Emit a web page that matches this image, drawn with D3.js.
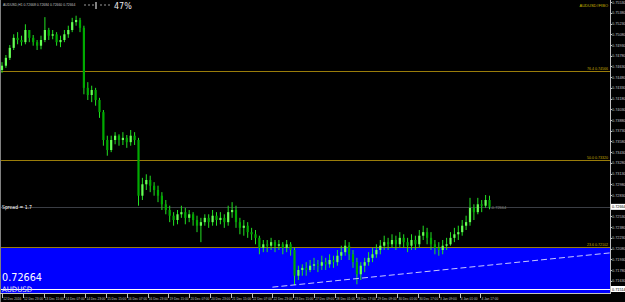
<!DOCTYPE html>
<html><head><meta charset="utf-8">
<script src="https://cdn.jsdelivr.net/npm/d3@7"></script>
<style>html,body{margin:0;padding:0;background:#000;overflow:hidden}svg{display:block}</style>
</head><body><svg id="c" width="625" height="302"></svg>
<script>
// ---------- data ----------
const symbol = "AUDUSD";
const titleText = "AUDUSD,H1  0.72668 0.72684 0.72660 0.72664";
const timeLabels = ["12 Dec 2016","12 Dec 23:00","13 Dec 15:00","14 Dec 07:00","14 Dec 23:00","15 Dec 15:00",
  "16 Dec 07:00","16 Dec 23:00","19 Dec 15:00","20 Dec 07:00","20 Dec 23:00","21 Dec 15:00",
  "22 Dec 07:00","22 Dec 23:00","23 Dec 15:00","27 Dec 09:00","28 Dec 01:00","28 Dec 17:00",
  "29 Dec 09:00","30 Dec 01:00","30 Dec 17:00","3 Jan 09:00","4 Jan 01:00","4 Jan 17:00"];
const labelEveryHours = 16;
const barHours = 3; // each drawn bar covers 3 hours
const opens = [0.7458,0.7464,0.7475,0.7489,0.7503,0.7500,0.7497,0.7514,0.7503,0.7497,
0.7492,0.7500,0.7514,0.7506,0.7508,0.7497,0.7500,0.7508,0.7514,0.7525,
0.7528,0.7517,0.7433,0.7423,0.7430,0.7416,0.7399,0.7360,0.7346,0.7360,
0.7366,0.7360,0.7363,0.7357,0.7366,0.7360,0.7282,0.7298,0.7304,0.7296,
0.7290,0.7282,0.7270,0.7262,0.7254,0.7248,0.7256,0.7259,0.7251,0.7256,
0.7248,0.7240,0.7245,0.7251,0.7245,0.7254,0.7248,0.7251,0.7245,0.7259,
0.7262,0.7245,0.7237,0.7240,0.7231,0.7228,0.7223,0.7209,0.7214,0.7212,
0.7217,0.7212,0.7214,0.7209,0.7214,0.7206,0.7170,0.7178,0.7181,0.7178,
0.7184,0.7186,0.7184,0.7189,0.7186,0.7192,0.7189,0.7198,0.7203,0.7212,
0.7200,0.7189,0.7172,0.7184,0.7189,0.7195,0.7200,0.7206,0.7212,0.7217,
0.7214,0.7220,0.7214,0.7223,0.7217,0.7212,0.7220,0.7214,0.7226,0.7231,
0.7223,0.7214,0.7209,0.7206,0.7212,0.7214,0.7223,0.7228,0.7231,0.7240,
0.7245,0.7265,0.7259,0.7270,0.7268,0.7276];
const highs = [0.7469,0.7479,0.7493,0.7508,0.7511,0.7506,0.7522,0.7514,0.7507,0.7500,
0.7506,0.7532,0.7517,0.7514,0.7511,0.7506,0.7514,0.7520,0.7531,0.7534,
0.7531,0.7520,0.7441,0.7436,0.7433,0.7419,0.7402,0.7366,0.7366,0.7371,
0.7368,0.7371,0.7367,0.7374,0.7371,0.7363,0.7307,0.7312,0.7310,0.7301,
0.7296,0.7287,0.7276,0.7268,0.7259,0.7262,0.7268,0.7265,0.7262,0.7259,
0.7254,0.7251,0.7256,0.7256,0.7262,0.7259,0.7259,0.7256,0.7268,0.7273,
0.7268,0.7251,0.7248,0.7245,0.7237,0.7234,0.7226,0.7220,0.7220,0.7223,
0.7220,0.7220,0.7217,0.7220,0.7217,0.7209,0.7184,0.7186,0.7189,0.7192,
0.7195,0.7192,0.7198,0.7195,0.7200,0.7198,0.7206,0.7212,0.7220,0.7217,
0.7206,0.7195,0.7189,0.7195,0.7203,0.7209,0.7214,0.7220,0.7226,0.7223,
0.7228,0.7226,0.7231,0.7228,0.7223,0.7228,0.7226,0.7234,0.7240,0.7237,
0.7231,0.7220,0.7217,0.7220,0.7223,0.7231,0.7237,0.7240,0.7248,0.7254,
0.7279,0.7270,0.7279,0.7276,0.7283,0.7282];
const lows = [0.7454,0.7461,0.7472,0.7486,0.7494,0.7492,0.7494,0.7497,0.7492,0.7486,
0.7487,0.7497,0.7500,0.7501,0.7492,0.7490,0.7497,0.7503,0.7511,0.7520,
0.7511,0.7424,0.7416,0.7413,0.7408,0.7391,0.7352,0.7338,0.7343,0.7354,
0.7352,0.7353,0.7349,0.7352,0.7353,0.7268,0.7276,0.7290,0.7287,0.7282,
0.7273,0.7262,0.7256,0.7245,0.7240,0.7242,0.7251,0.7242,0.7245,0.7240,
0.7231,0.7217,0.7240,0.7237,0.7240,0.7240,0.7242,0.7237,0.7240,0.7251,
0.7237,0.7228,0.7226,0.7223,0.7220,0.7214,0.7200,0.7203,0.7203,0.7206,
0.7203,0.7206,0.7200,0.7203,0.7198,0.7157,0.7164,0.7170,0.7170,0.7175,
0.7178,0.7175,0.7178,0.7178,0.7181,0.7181,0.7184,0.7192,0.7198,0.7192,
0.7181,0.7158,0.7164,0.7175,0.7184,0.7189,0.7195,0.7200,0.7206,0.7206,
0.7209,0.7206,0.7209,0.7209,0.7203,0.7206,0.7206,0.7209,0.7220,0.7214,
0.7206,0.7200,0.7198,0.7200,0.7206,0.7212,0.7217,0.7220,0.7226,0.7234,
0.7240,0.7248,0.7256,0.7259,0.7265,0.7263];
const closes = [0.7464,0.7475,0.7489,0.7503,0.7500,0.7497,0.7514,0.7503,0.7497,0.7492,
0.7500,0.7514,0.7506,0.7508,0.7497,0.7500,0.7508,0.7514,0.7525,0.7528,
0.7517,0.7433,0.7423,0.7430,0.7416,0.7399,0.7360,0.7346,0.7360,0.7366,
0.7360,0.7363,0.7357,0.7366,0.7360,0.7282,0.7298,0.7304,0.7296,0.7290,
0.7282,0.7270,0.7262,0.7254,0.7248,0.7256,0.7259,0.7251,0.7256,0.7248,
0.7240,0.7245,0.7251,0.7245,0.7254,0.7248,0.7251,0.7245,0.7259,0.7262,
0.7245,0.7237,0.7240,0.7231,0.7228,0.7223,0.7209,0.7214,0.7212,0.7217,
0.7212,0.7214,0.7209,0.7214,0.7206,0.7170,0.7178,0.7181,0.7178,0.7184,
0.7186,0.7184,0.7189,0.7186,0.7192,0.7189,0.7198,0.7203,0.7212,0.7200,
0.7189,0.7172,0.7184,0.7189,0.7195,0.7200,0.7206,0.7212,0.7217,0.7214,
0.7220,0.7214,0.7223,0.7217,0.7212,0.7220,0.7214,0.7226,0.7231,0.7223,
0.7214,0.7209,0.7206,0.7212,0.7214,0.7223,0.7228,0.7231,0.7240,0.7245,
0.7265,0.7259,0.7270,0.7268,0.7276,0.72664];
const priceTicks = [0.7553,0.7538,0.7523,0.7508,0.7493,0.7478,0.7463,0.7448,0.7433,0.7418,
0.7403,0.7388,0.7373,0.7358,0.7343,0.7328,0.7313,0.7298,0.7283,0.7268,
0.7253,0.7238,0.7223,0.7208,0.7193,0.7178,0.7163,0.7148];
const currentPrice = 0.72664;
const fibLevels = [0.74566, 0.73320, 0.72102];
const fibLabels = ["76.4 0.74566", "50.0 0.73320", "23.6 0.72102"];
const fibName = "AUDUSD#FIBO";
const zoneTop = 0.72102;
const whiteLevel = 0.71514;
const trendHours = [208, 468];
const trendPrices = [0.7154, 0.7202];
const spreadText = "Spread = 1.7";
const progressText = "47%";

// ---------- layout ----------
const NARROW = "'Liberation Sans Narrow','Liberation Sans',sans-serif";
const plotR = 610, plotB = 293;
const svg = d3.select("#c");
svg.append("rect").attr("width",625).attr("height",302).attr("fill","#000");
const x = d3.scaleLinear().domain([0, 375]).range([2, 489.5]);
const y = d3.scaleLinear().domain([0.71458, 0.7556]).range([plotB, 0]);

svg.append("clipPath").attr("id","clip").append("rect").attr("x",0).attr("y",0).attr("width",plotR).attr("height",plotB);
const g = svg.append("g").attr("clip-path","url(#clip)");

// blue zone
g.append("rect").attr("x",0).attr("y",y(zoneTop)).attr("width",plotR).attr("height",plotB - y(zoneTop)).attr("fill","#0000ff");

// fib lines
g.selectAll(".fib").data(fibLevels).join("line")
  .attr("x1",0).attr("x2",plotR).attr("y1",d=>Math.round(y(d))+0.5).attr("y2",d=>Math.round(y(d))+0.5)
  .attr("stroke","#9a7d0a").attr("stroke-width",1);

// current price (bid) line
g.append("line").attr("x1",0).attr("x2",plotR)
  .attr("y1",Math.round(y(currentPrice))+0.5).attr("y2",Math.round(y(currentPrice))+0.5)
  .attr("stroke","#3a3d44").attr("stroke-width",1);

// white level line
g.append("line").attr("x1",0).attr("x2",plotR)
  .attr("y1",Math.round(y(whiteLevel))+0.5).attr("y2",Math.round(y(whiteLevel))+0.5)
  .attr("stroke","#ffffff").attr("stroke-width",1);

// candles
const bars = opens.map((o,i)=>({h:i*barHours,o,hi:highs[i],lo:lows[i],c:closes[i]}));
g.selectAll(".wick").data(bars).join("line")
  .attr("x1",d=>x(d.h)).attr("x2",d=>x(d.h))
  .attr("y1",d=>y(d.hi)).attr("y2",d=>y(d.lo))
  .attr("stroke","#22e022").attr("stroke-width",1);
g.selectAll(".body").data(bars).join("rect")
  .attr("x",d=>x(d.h)-1.1).attr("width",2.2)
  .attr("y",d=>y(Math.max(d.o,d.c)))
  .attr("height",d=>Math.max(1, Math.abs(y(d.o)-y(d.c))))
  .attr("fill",d=>d.c>=d.o ? "#66ff55" : "#00aa00");

// trend line
g.append("line")
  .attr("x1",x(trendHours[0])).attr("y1",y(trendPrices[0]))
  .attr("x2",x(trendHours[1])).attr("y2",y(trendPrices[1]))
  .attr("stroke","#c8c8ff").attr("stroke-width",1).attr("stroke-dasharray","6,3");

// fib labels
g.selectAll(".fibt").data(fibLevels).join("text")
  .attr("x",608).attr("y",d=>Math.round(y(d))-1).attr("text-anchor","end")
  .attr("font-family",NARROW).attr("font-size",3.6).attr("fill","#c8a800")
  .text((d,i)=>fibLabels[i]);
svg.append("text").attr("x",608).attr("y",7).attr("text-anchor","end")
  .attr("font-family",NARROW).attr("font-size",4).attr("fill","#c8b400")
  .text(fibName);

// texts in plot
svg.append("text").attr("x",2).attr("y",Math.round(y(currentPrice))+2)
  .attr("font-family","DejaVu Sans").attr("font-size",5.5).attr("fill","#ffffff")
  .attr("textLength",30).attr("lengthAdjust","spacingAndGlyphs").text(spreadText);
svg.append("text").attr("x",x(375)+1).attr("y",Math.round(y(currentPrice))+2)
  .attr("font-family",NARROW).attr("font-size",4).attr("fill","#8a8a8a")
  .text("-"+currentPrice.toFixed(5));
svg.append("text").attr("x",2).attr("y",281)
  .attr("font-family","DejaVu Sans").attr("font-size",11).attr("fill","#ffffff")
  .attr("textLength",40).attr("lengthAdjust","spacingAndGlyphs").text(currentPrice.toFixed(5));
svg.append("text").attr("x",2).attr("y",292)
  .attr("font-family","DejaVu Sans").attr("font-size",7.5).attr("fill","#e6e6f0")
  .attr("textLength",30).attr("lengthAdjust","spacingAndGlyphs").text(symbol);

// title row
svg.append("text").attr("x",3).attr("y",6)
  .attr("font-family",NARROW).attr("font-size",3.4).attr("fill","#c0c0c0")
  .text(titleText);
[84,88,92,100,104,108].forEach(px=>svg.append("rect").attr("x",px).attr("y",4.5).attr("width",2).attr("height",1).attr("fill","#9a9a9a"));
svg.append("rect").attr("x",95.5).attr("y",2).attr("width",1).attr("height",7).attr("fill","#ffffff");
svg.append("text").attr("x",114).attr("y",8.5)
  .attr("font-family","DejaVu Sans").attr("font-size",8).attr("fill","#e8e8e8").text(progressText);

// left border
svg.append("line").attr("x1",0.5).attr("x2",0.5).attr("y1",0).attr("y2",302).attr("stroke","#808080");

// right axis
svg.append("line").attr("x1",plotR+0.5).attr("x2",plotR+0.5).attr("y1",0).attr("y2",plotB+1).attr("stroke","#c0c0c0");
svg.append("line").attr("x1",0).attr("x2",plotR+1).attr("y1",plotB+0.5).attr("y2",plotB+0.5).attr("stroke","#c0c0c0");
const ticks = priceTicks.filter(p=>Math.abs(y(p)-y(currentPrice))>4 && Math.abs(y(p)-y(whiteLevel))>4);
svg.selectAll(".pt").data(ticks).join("text")
  .attr("x",612).attr("y",d=>Math.max(4, y(d)+1.5))
  .attr("font-family",NARROW).attr("font-size",3.8).attr("fill","#c0c0c0")
  .text(d=>d.toFixed(5));
svg.selectAll(".ptk").data(ticks).join("line")
  .attr("x1",plotR).attr("x2",plotR+2).attr("y1",d=>Math.round(y(d))+0.5).attr("y2",d=>Math.round(y(d))+0.5)
  .attr("stroke","#c0c0c0");
[currentPrice, whiteLevel].forEach(p=>{
  svg.append("rect").attr("x",611).attr("y",y(p)-3).attr("width",14).attr("height",6).attr("fill","#ffffff");
  svg.append("text").attr("x",612).attr("y",y(p)+1.5)
    .attr("font-family",NARROW).attr("font-size",3.8).attr("fill","#000")
    .text(p.toFixed(5));
});

// time axis
const tl = timeLabels.map((t,i)=>({t,h:i*labelEveryHours}));
svg.selectAll(".tt").data(tl).join("line")
  .attr("x1",d=>Math.round(x(d.h))+0.5).attr("x2",d=>Math.round(x(d.h))+0.5)
  .attr("y1",plotB+1).attr("y2",plotB+5).attr("stroke","#c0c0c0");
svg.selectAll(".tx").data(tl).join("text")
  .attr("x",d=>x(d.h)+1.2).attr("y",300)
  .attr("font-family",NARROW).attr("font-size",3.2).attr("fill","#c0c0c0")
  .text(d=>d.t);
</script></body></html>
